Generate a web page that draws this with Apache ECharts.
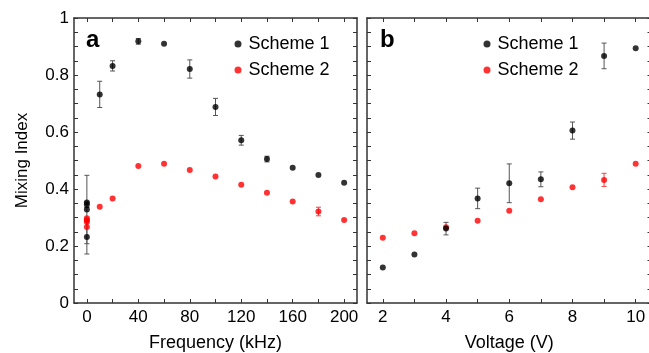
<!DOCTYPE html>
<html>
<head>
<meta charset="utf-8">
<script src="https://cdn.jsdelivr.net/npm/echarts@6/dist/echarts.min.js"></script>
<style>
html,body{margin:0;padding:0;background:#fff;}
#chart{width:649px;height:353px;}
</style>
</head>
<body>
<div id="chart"></div>
<script>
// ---- Data: panel a (Frequency) ----
const freqS1 = [0, 0, 0, 0, 10, 20, 40, 60, 80, 100, 120, 140, 160, 180, 200];
const mixS1 = [0.353, 0.345, 0.328, 0.232, 0.732, 0.832, 0.918, 0.910, 0.821, 0.688, 0.571, 0.505, 0.475, 0.449, 0.422];
const errS1 = [0, 0.01, 0.12, 0.06, 0.046, 0.018, 0.01, 0, 0.032, 0.03, 0.017, 0.01, 0, 0, 0];
const freqS2 = [0, 0, 0, 0, 10, 20, 40, 60, 80, 100, 120, 140, 160, 180, 200];
const mixS2 = [0.297, 0.290, 0.284, 0.267, 0.338, 0.367, 0.481, 0.489, 0.467, 0.444, 0.415, 0.387, 0.356, 0.321, 0.291];
const errS2 = [0, 0, 0, 0, 0, 0, 0, 0, 0, 0, 0, 0, 0, 0.015, 0];

// ---- Data: panel b (Voltage) ----
const volt = [2, 3, 4, 5, 6, 7, 8, 9, 10];
const vMixS1 = [0.125, 0.170, 0.261, 0.367, 0.420, 0.434, 0.605, 0.867, 0.894];
const vErrS1 = [0, 0, 0.022, 0.036, 0.068, 0.026, 0.03, 0.045, 0];
const vMixS2 = [0.229, 0.245, 0.266, 0.289, 0.324, 0.364, 0.406, 0.432, 0.489];
const vErrS2 = [0, 0, 0, 0, 0, 0, 0, 0.023, 0];

// ---- Tick values / labels ----
const freqTicks = [0, 20, 40, 60, 80, 100, 120, 140, 160, 180, 200];
const freqLabels = [0, 40, 80, 120, 160, 200];
const voltTicks = [2, 3, 4, 5, 6, 7, 8, 9, 10];
const voltLabels = [2, 4, 6, 8, 10];
const yTicks = [0, 0.05, 0.1, 0.15, 0.2, 0.25, 0.3, 0.35, 0.4, 0.45, 0.5, 0.55, 0.6, 0.65, 0.7, 0.75, 0.8, 0.85, 0.9, 0.95, 1];
const yLabels = [0, 0.2, 0.4, 0.6, 0.8, 1];

const seriesNames = ['Scheme 1', 'Scheme 2'];
const panelLabels = ['a', 'b'];

const FONT = 'Liberation Sans, Arial, Helvetica, sans-serif';
const AXC = '#333';

function zip(xs, ys) { return xs.map((x, i) => [x, ys[i]]); }
function zip3(xs, ys, es) { return xs.map((x, i) => [x, ys[i], es[i]]); }

function errRender(color) {
  return function (params, api) {
    const x = api.value(0), y = api.value(1), e = api.value(2);
    if (!e) return null;
    const t = api.coord([x, y + e]), b = api.coord([x, y - e]);
    const w = 2.5;
    const st = { stroke: color, lineWidth: 1 };
    return {
      type: 'group',
      children: [
        { type: 'line', shape: { x1: t[0], y1: t[1], x2: b[0], y2: b[1] }, style: st },
        { type: 'line', shape: { x1: t[0] - w, y1: t[1], x2: t[0] + w, y2: t[1] }, style: st },
        { type: 'line', shape: { x1: b[0] - w, y1: b[1], x2: b[0] + w, y2: b[1] }, style: st }
      ]
    };
  };
}

function xAx(grid, pos, min, max, ticks, labels, showLabel, name) {
  return {
    type: 'value', gridIndex: grid, position: pos, min: min, max: max,
    axisLine: { show: true, onZero: false, lineStyle: { color: AXC, width: 1.5 } },
    axisTick: { show: true, inside: true, length: 4, customValues: ticks, lineStyle: { color: AXC, width: 1 } },
    axisLabel: { show: showLabel, customValues: labels, margin: 6, fontSize: 17, color: '#000', fontFamily: FONT },
    splitLine: { show: false },
    name: name || '', nameLocation: 'middle', nameGap: 31,
    nameTextStyle: { fontSize: 18, color: '#000', fontFamily: FONT }
  };
}
function yAx(grid, pos, showLabel, name) {
  return {
    type: 'value', gridIndex: grid, position: pos, min: 0, max: 1,
    axisLine: { show: true, onZero: false, lineStyle: { color: AXC, width: 1.5 } },
    axisTick: { show: true, inside: true, length: 4, customValues: yTicks, lineStyle: { color: AXC, width: 1 } },
    axisLabel: { show: showLabel, customValues: yLabels, margin: 5, fontSize: 17, color: '#000', fontFamily: FONT },
    splitLine: { show: false },
    name: name || '', nameLocation: 'middle', nameGap: 43,
    nameTextStyle: { fontSize: 17, color: '#000', fontFamily: FONT }
  };
}

const colors = ['#000000', '#ff0000'];
const errColors = ['#555555', '#ee4444'];

function scatter(name, xi, yi, data, ci) {
  return { name: name, type: 'scatter', xAxisIndex: xi, yAxisIndex: yi, data: data,
    symbol: 'circle', symbolSize: 6, itemStyle: { color: colors[ci] }, z: 3 };
}
function errSeries(name, xi, yi, data, ci) {
  return { name: name, type: 'custom', xAxisIndex: xi, yAxisIndex: yi, data: data,
    encode: { x: 0, y: 1 }, renderItem: errRender(errColors[ci]), z: 2, silent: true };
}

function legend(left) {
  return {
    orient: 'vertical', left: left, top: 35, itemWidth: 7, itemHeight: 7, itemGap: 8,
    padding: 0, selectedMode: false,
    data: seriesNames.map((n, i) => ({ name: n, icon: 'circle', itemStyle: { color: colors[i] } })),
    textStyle: { fontSize: 18, lineHeight: 18, color: '#000', fontFamily: FONT, padding: [0, 0, 0, 2] }
  };
}

const option = {
  animation: false,
  backgroundColor: '#fff',
  title: [
    { text: panelLabels[0], left: 86, top: 28, padding: 0, textStyle: { fontSize: 24, fontWeight: 'bold', color: '#000', fontFamily: FONT } },
    { text: panelLabels[1], left: 380, top: 28, padding: 0, textStyle: { fontSize: 24, fontWeight: 'bold', color: '#000', fontFamily: FONT } }
  ],
  legend: [legend(234.5), legend(483.5)],
  grid: [
    { left: 74, top: 18, width: 283, height: 285, outerBoundsMode: 'none', containLabel: false },
    { left: 367, top: 18, width: 284.5, height: 285, outerBoundsMode: 'none', containLabel: false }
  ],
  xAxis: [
    xAx(0, 'bottom', -10, 210, freqTicks, freqLabels, true, 'Frequency (kHz)'),
    xAx(0, 'top', -10, 210, freqTicks, freqLabels, false),
    xAx(1, 'bottom', 1.5, 10.5, voltTicks, voltLabels, true, 'Voltage (V)'),
    xAx(1, 'top', 1.5, 10.5, voltTicks, voltLabels, false)
  ],
  yAxis: [
    yAx(0, 'left', true, 'Mixing Index'),
    yAx(0, 'right', false),
    yAx(1, 'left', false),
    yAx(1, 'right', false)
  ],
  series: [
    errSeries('err a1', 0, 0, zip3(freqS1, mixS1, errS1), 0),
    errSeries('err a2', 0, 0, zip3(freqS2, mixS2, errS2), 1),
    scatter(seriesNames[1], 0, 0, zip(freqS2, mixS2), 1),
    scatter(seriesNames[0], 0, 0, zip(freqS1, mixS1), 0),
    errSeries('err b1', 2, 2, zip3(volt, vMixS1, vErrS1), 0),
    errSeries('err b2', 2, 2, zip3(volt, vMixS2, vErrS2), 1),
    scatter(seriesNames[1], 2, 2, zip(volt, vMixS2), 1),
    scatter(seriesNames[0], 2, 2, zip(volt, vMixS1), 0)
  ]
};

const chart = echarts.init(document.getElementById('chart'), null, { renderer: 'canvas' });
chart.setOption(option);
</script>
</body>
</html>
